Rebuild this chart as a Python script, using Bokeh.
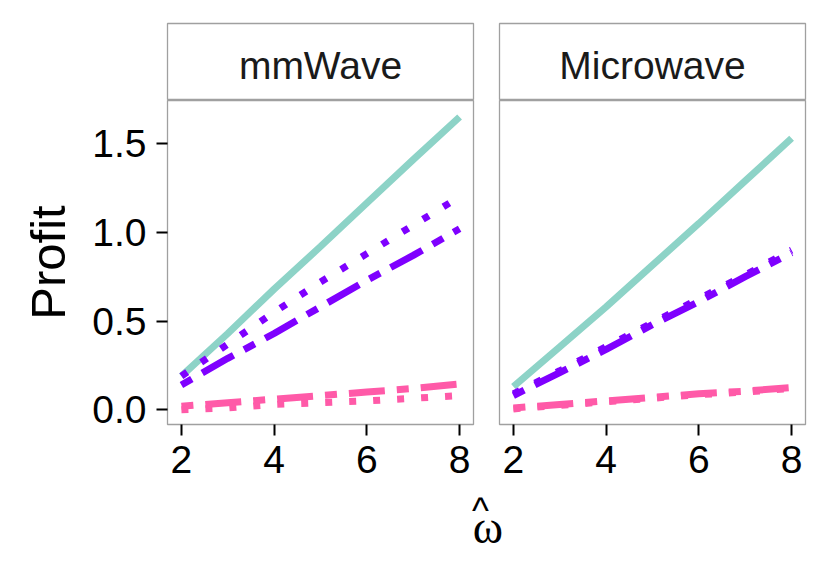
from bokeh.plotting import figure
from bokeh.models import Range1d, FixedTicker
from bokeh.layouts import row, column
from bokeh.core.properties import value
from bokeh.embed import file_html
from bokeh.resources import INLINE

# ---------------- data ----------------
omega_hat = [2, 3, 4, 5, 6, 7, 8]
panels = ["mmWave", "Microwave"]

# mmWave panel
mm_teal_solid = [0.19, 0.43, 0.68, 0.92, 1.165, 1.41, 1.65]
mm_purple_dotted = [0.19, 0.37, 0.55, 0.72, 0.88, 1.04, 1.20]
mm_purple_twodash = [0.14, 0.29, 0.43, 0.58, 0.73, 0.87, 1.02]
mm_pink_twodash = [0.02, 0.04, 0.06, 0.08, 0.10, 0.12, 0.145]
mm_pink_dotted = [0.00, 0.01, 0.03, 0.04, 0.05, 0.065, 0.08]

# Microwave panel
mw_teal_solid = [0.13, 0.355, 0.58, 0.815, 1.05, 1.29, 1.53]
mw_purple_dotted = [0.09, 0.22, 0.355, 0.49, 0.625, 0.76, 0.90]
mw_purple_twodash = [0.08, 0.21, 0.34, 0.48, 0.61, 0.75, 0.885]
mw_pink_twodash = [0.01, 0.03, 0.05, 0.07, 0.09, 0.105, 0.125]
mw_pink_dotted = [0.005, 0.025, 0.045, 0.065, 0.085, 0.10, 0.12]

y_ticks = [0.0, 0.5, 1.0, 1.5]
y_tick_labels = ["0.0", "0.5", "1.0", "1.5"]
x_ticks = [2, 4, 6, 8]
x_tick_labels = ["2", "4", "6", "8"]

TEAL = "#8DD3C7"
PURPLE = "#7F00FF"
PINK = "#FF5AA8"
BORDER = "#A0A0A0"
FONT = "Liberation Sans"
LW = 7
DOTTED = "7 17"
TWODASH = "12 12 36 12"

mm_series = [
    (mm_teal_solid, TEAL, "solid"),
    (mm_purple_dotted, PURPLE, DOTTED),
    (mm_purple_twodash, PURPLE, TWODASH),
    (mm_pink_twodash, PINK, TWODASH),
    (mm_pink_dotted, PINK, DOTTED),
]
mw_series = [
    (mw_teal_solid, TEAL, "solid"),
    (mw_purple_dotted, PURPLE, DOTTED),
    (mw_purple_twodash, PURPLE, TWODASH),
    (mw_pink_twodash, PINK, TWODASH),
    (mw_pink_dotted, PINK, DOTTED),
]

FRAME_W = 306
FRAME_H = 324
STRIP_TOP = 23
STRIP_H = 77
BOTTOM = 64
TOTAL_W = 830
TOTAL_H = 580


def make_strip(name, left, right):
    s = figure(width=left + FRAME_W + right, height=STRIP_TOP + STRIP_H,
               min_border_left=left, min_border_right=right,
               min_border_top=STRIP_TOP, min_border_bottom=0,
               x_range=Range1d(0, 1), y_range=Range1d(0, STRIP_H),
               x_axis_type=None, y_axis_type=None,
               output_backend="svg", toolbar_location=None)
    s.outline_line_color = BORDER
    s.outline_line_width = 1.3
    s.background_fill_color = "white"
    s.border_fill_color = "white"
    s.grid.visible = False
    s.text(x=[0.5], y=[35], text=[name], text_font=value(FONT),
           text_font_size="39px", text_color="#1A1A1A",
           text_align="center", text_baseline="middle")
    return s


def make_panel(series, left, right, show_y):
    p = figure(width=left + FRAME_W + right, height=FRAME_H + BOTTOM,
               min_border_left=left, min_border_right=right,
               min_border_top=0, min_border_bottom=BOTTOM,
               x_range=Range1d(1.7, 8.3), y_range=Range1d(-0.083, 1.743),
               output_backend="svg", toolbar_location=None)
    p.outline_line_color = BORDER
    p.outline_line_width = 1.3
    p.background_fill_color = "white"
    p.border_fill_color = "white"
    p.grid.visible = False
    for ys, col, dash in series:
        p.line(omega_hat, ys, line_color=col, line_width=LW, line_dash=dash)

    ax = p.xaxis[0]
    ax.ticker = FixedTicker(ticks=x_ticks)
    ax.major_label_overrides = {t: l for t, l in zip(x_ticks, x_tick_labels)}
    ax.axis_line_color = None
    ax.major_tick_line_color = "black"
    ax.major_tick_line_width = 2
    ax.major_tick_out = 11
    ax.major_tick_in = 0
    ax.minor_tick_line_color = None
    ax.major_label_text_font = FONT
    ax.major_label_text_font_size = "39px"
    ax.major_label_text_color = "black"
    ax.major_label_standoff = 10

    ay = p.yaxis[0]
    if show_y:
        ay.ticker = FixedTicker(ticks=y_ticks)
        ay.major_label_overrides = {t: l for t, l in zip(y_ticks, y_tick_labels)}
        ay.axis_line_color = None
        ay.major_tick_line_color = "black"
        ay.major_tick_line_width = 2
        ay.major_tick_out = 11
        ay.major_tick_in = 0
        ay.minor_tick_line_color = None
        ay.major_label_text_font = FONT
        ay.major_label_text_font_size = "39px"
        ay.major_label_text_color = "black"
        ay.major_label_standoff = 10
        ay.axis_label = "Profit"
        ay.axis_label_text_font = FONT
        ay.axis_label_text_font_size = "49px"
        ay.axis_label_text_font_style = "normal"
        ay.axis_label_text_color = "black"
        ay.axis_label_standoff = 14
    else:
        ay.visible = False
    return p


LEFT_L, RIGHT_L = 167, 13
LEFT_R = 13
RIGHT_R = TOTAL_W - (LEFT_L + FRAME_W + RIGHT_L) - LEFT_R - FRAME_W

strip_l = make_strip(panels[0], LEFT_L, RIGHT_L)
strip_r = make_strip(panels[1], LEFT_R, RIGHT_R)
panel_l = make_panel(mm_series, LEFT_L, RIGHT_L, True)
panel_r = make_panel(mw_series, LEFT_R, RIGHT_R, False)

XL_H = TOTAL_H - (STRIP_TOP + STRIP_H + FRAME_H + BOTTOM)
xl = figure(width=TOTAL_W, height=XL_H, min_border=0,
            min_border_left=0, min_border_right=0,
            min_border_top=0, min_border_bottom=0,
            x_range=Range1d(0, TOTAL_W), y_range=Range1d(XL_H, 0),
            x_axis_type=None, y_axis_type=None,
            output_backend="svg", toolbar_location=None)
xl.outline_line_color = None
xl.grid.visible = False
xl.background_fill_color = "white"
xl.border_fill_color = "white"
xl.text(x=[480], y=[22], text=["^"], text_font=value(FONT),
        text_font_size="36px", text_color="black",
        text_align="center", text_baseline="middle")
xl.text(x=[487.5], y=[39], text=["\u03c9"], text_font=value("Liberation Serif"),
        text_font_size="46px", text_color="black",
        text_align="center", text_baseline="middle")

layout = column(row(column(strip_l, panel_l), column(strip_r, panel_r)), xl)

with open("out.html", "w") as f:
    f.write(file_html(layout, INLINE))
